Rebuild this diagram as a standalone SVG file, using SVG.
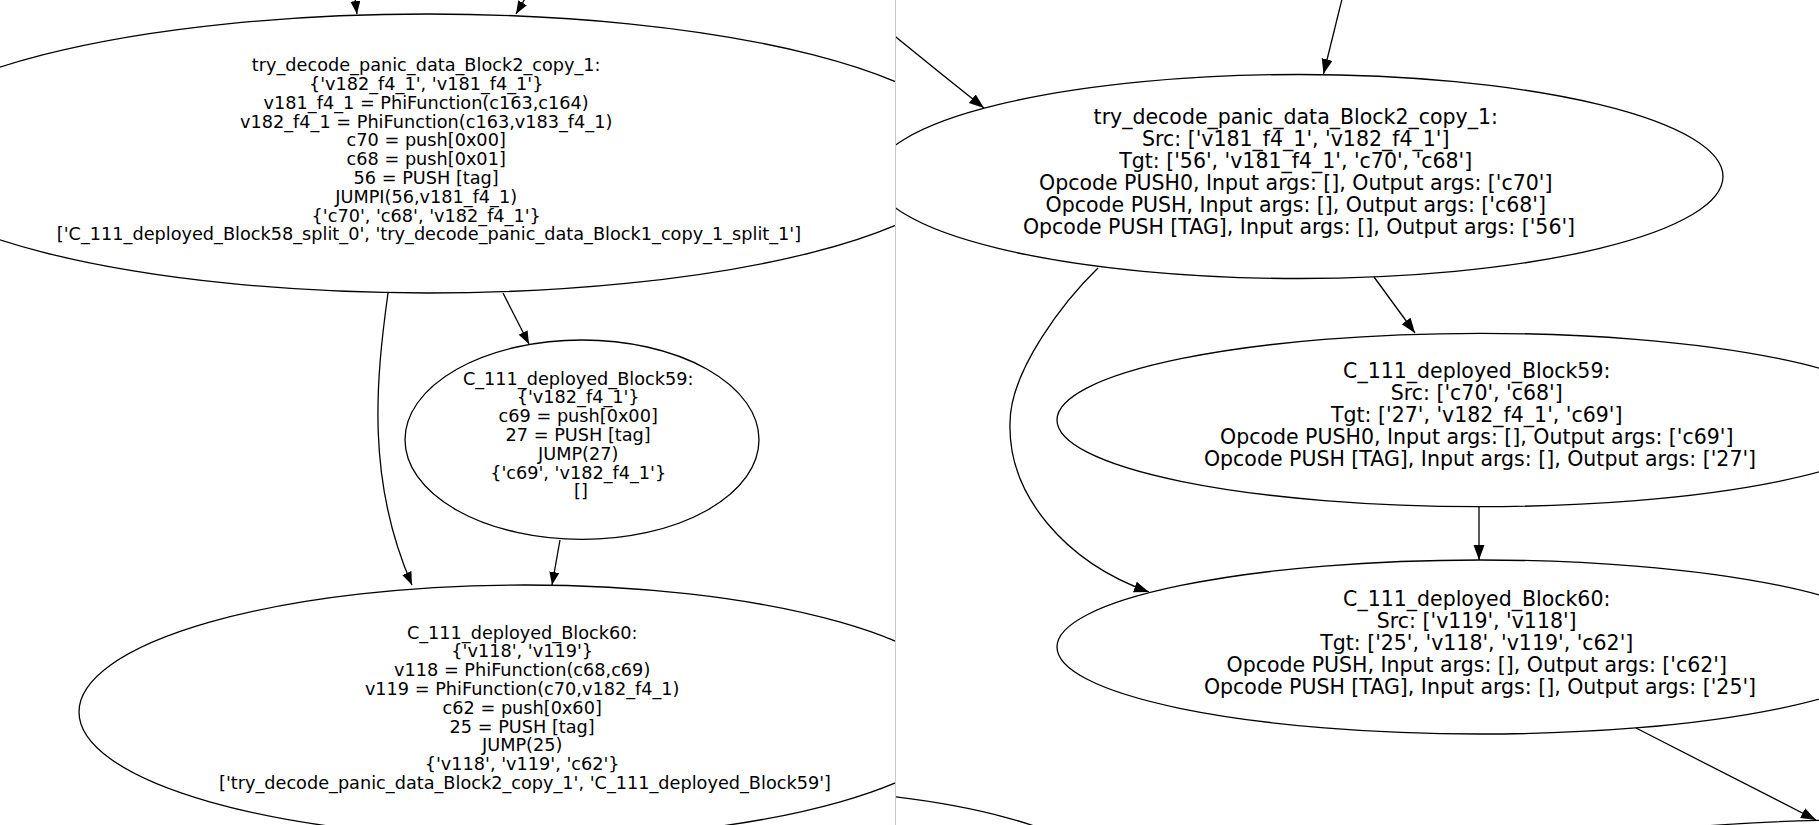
<svg xmlns="http://www.w3.org/2000/svg" width="1819" height="825" viewBox="0 0 1819 825">
  <style>
    .node ellipse { fill: none; stroke: #000; stroke-width: 1.3; }
    .edge { fill: none; stroke: #000; stroke-width: 1.3; }
    .lt { font-family: "DejaVu Sans", "Liberation Sans", sans-serif; font-size: 17.7px; text-anchor: middle; fill: #000; }
    .rt { font-family: "DejaVu Sans", "Liberation Sans", sans-serif; font-size: 20.5px; text-anchor: middle; fill: #000; }
  </style>
  <defs>
    <clipPath id="clipLeft"><rect x="0" y="0" width="895" height="825"/></clipPath>
    <clipPath id="clipRight"><rect x="896" y="0" width="923" height="825"/></clipPath>
    <marker id="arrL" markerUnits="userSpaceOnUse" viewBox="0 0 14 11" markerWidth="14" markerHeight="11" refX="13" refY="5" orient="auto">
      <path d="M0,0 L13,5 L0,10 z" fill="#000"/>
    </marker>
    <marker id="arrR" markerUnits="userSpaceOnUse" viewBox="0 0 16 12" markerWidth="16" markerHeight="12" refX="15" refY="5.5" orient="auto">
      <path d="M0,0 L15,5.5 L0,11 z" fill="#000"/>
    </marker>
  </defs>

  <rect x="0" y="0" width="1819" height="825" fill="#fff"/>

  <!-- Left view: SSA blocks -->
  <g clip-path="url(#clipLeft)">
    <g id="left-edges">
      <path class="edge" d="M354,-10 L357,14" marker-end="url(#arrL)"/>
      <path class="edge" d="M526,-3 L516,14" marker-end="url(#arrL)"/>
      <path class="edge" d="M388,293 C376,380 366,480 412,585" marker-end="url(#arrL)"/>
      <path class="edge" d="M503,293 L529,344" marker-end="url(#arrL)"/>
      <path class="edge" d="M560,540 L552,585" marker-end="url(#arrL)"/>
    </g>

    <g id="left-block2" class="node">
      <ellipse cx="428" cy="153.5" rx="545" ry="139.5"/>
      <text class="lt">
        <tspan x="429" y="71.1">try_decode_panic_data_Block2_copy_1:</tspan>
        <tspan x="429" y="89.9">{'v182_f4_1', 'v181_f4_1'}</tspan>
        <tspan x="429" y="108.7">v181_f4_1 = PhiFunction(c163,c164)</tspan>
        <tspan x="429" y="127.5">v182_f4_1 = PhiFunction(c163,v183_f4_1)</tspan>
        <tspan x="429" y="146.3">c70 = push[0x00]</tspan>
        <tspan x="429" y="165.1">c68 = push[0x01]</tspan>
        <tspan x="429" y="183.9">56 = PUSH [tag]</tspan>
        <tspan x="429" y="202.7">JUMPI(56,v181_f4_1)</tspan>
        <tspan x="429" y="221.5">{'c70', 'c68', 'v182_f4_1'}</tspan>
        <tspan x="429" y="240.3">['C_111_deployed_Block58_split_0', 'try_decode_panic_data_Block1_copy_1_split_1']</tspan>
      </text>
    </g>

    <g id="left-block59" class="node">
      <ellipse cx="582" cy="439.7" rx="177" ry="99.7"/>
      <text class="lt">
        <tspan x="581" y="384.6">C_111_deployed_Block59:</tspan>
        <tspan x="581" y="403.4">{'v182_f4_1'}</tspan>
        <tspan x="581" y="422.2">c69 = push[0x00]</tspan>
        <tspan x="581" y="441">27 = PUSH [tag]</tspan>
        <tspan x="581" y="459.8">JUMP(27)</tspan>
        <tspan x="581" y="478.6">{'c69', 'v182_f4_1'}</tspan>
        <tspan x="581" y="497.4">[]</tspan>
      </text>
    </g>

    <g id="left-block60" class="node">
      <ellipse cx="525" cy="712" rx="446" ry="127"/>
      <text class="lt">
        <tspan x="525" y="638.6">C_111_deployed_Block60:</tspan>
        <tspan x="525" y="657.4">{'v118', 'v119'}</tspan>
        <tspan x="525" y="676.2">v118 = PhiFunction(c68,c69)</tspan>
        <tspan x="525" y="695">v119 = PhiFunction(c70,v182_f4_1)</tspan>
        <tspan x="525" y="713.8">c62 = push[0x60]</tspan>
        <tspan x="525" y="732.6">25 = PUSH [tag]</tspan>
        <tspan x="525" y="751.4">JUMP(25)</tspan>
        <tspan x="525" y="770.2">{'v118', 'v119', 'c62'}</tspan>
        <tspan x="525" y="789">['try_decode_panic_data_Block2_copy_1', 'C_111_deployed_Block59']</tspan>
      </text>
    </g>
  </g>

  <!-- Right view: opcode blocks -->
  <g clip-path="url(#clipRight)">
    <g id="right-edges">
      <path class="edge" d="M1343,-5 L1323.5,74" marker-end="url(#arrR)"/>
      <path class="edge" d="M880,24 Q930,65 984,108" marker-end="url(#arrR)"/>
      <path class="edge" d="M1374,277 L1415,333" marker-end="url(#arrR)"/>
      <path class="edge" d="M1479,507 L1479,560" marker-end="url(#arrR)"/>
      <path class="edge" d="M1098,268 C1065,300 1010,370 1010,423 C1008,495 1065,562 1149,592" marker-end="url(#arrR)"/>
      <path class="edge" d="M1636,728 L1816,820" marker-end="url(#arrR)"/>
    </g>

    <g id="right-block2" class="node">
      <ellipse cx="1299" cy="176.5" rx="424" ry="102"/>
      <text class="rt">
        <tspan x="1299" y="123.6">try_decode_panic_data_Block2_copy_1:</tspan>
        <tspan x="1299" y="145.7">Src: ['v181_f4_1', 'v182_f4_1']</tspan>
        <tspan x="1299" y="167.8">Tgt: ['56', 'v181_f4_1', 'c70', 'c68']</tspan>
        <tspan x="1299" y="189.9">Opcode PUSH0, Input args: [], Output args: ['c70']</tspan>
        <tspan x="1299" y="212">Opcode PUSH, Input args: [], Output args: ['c68']</tspan>
        <tspan x="1299" y="234.1">Opcode PUSH [TAG], Input args: [], Output args: ['56']</tspan>
      </text>
    </g>

    <g id="right-block59" class="node">
      <ellipse cx="1480" cy="420" rx="423" ry="86.7"/>
      <text class="rt">
        <tspan x="1480" y="378">C_111_deployed_Block59:</tspan>
        <tspan x="1480" y="400.1">Src: ['c70', 'c68']</tspan>
        <tspan x="1480" y="422.2">Tgt: ['27', 'v182_f4_1', 'c69']</tspan>
        <tspan x="1480" y="444.3">Opcode PUSH0, Input args: [], Output args: ['c69']</tspan>
        <tspan x="1480" y="466.4">Opcode PUSH [TAG], Input args: [], Output args: ['27']</tspan>
      </text>
    </g>

    <g id="right-block60" class="node">
      <ellipse cx="1480" cy="647" rx="423" ry="87"/>
      <text class="rt">
        <tspan x="1480" y="606">C_111_deployed_Block60:</tspan>
        <tspan x="1480" y="628.1">Src: ['v119', 'v118']</tspan>
        <tspan x="1480" y="650.2">Tgt: ['25', 'v118', 'v119', 'c62']</tspan>
        <tspan x="1480" y="672.3">Opcode PUSH, Input args: [], Output args: ['c62']</tspan>
        <tspan x="1480" y="694.4">Opcode PUSH [TAG], Input args: [], Output args: ['25']</tspan>
      </text>
    </g>

    <g id="right-lower-left" class="node">
      <ellipse cx="743" cy="888" rx="371" ry="100"/>
    </g>
    <g id="right-lower-right" class="node">
      <ellipse cx="1860" cy="907" rx="423" ry="87"/>
    </g>
  </g>

  <!-- panel divider -->
  <line x1="895.5" y1="0" x2="895.5" y2="825" stroke="#c8c8c8" stroke-width="1"/>
</svg>
